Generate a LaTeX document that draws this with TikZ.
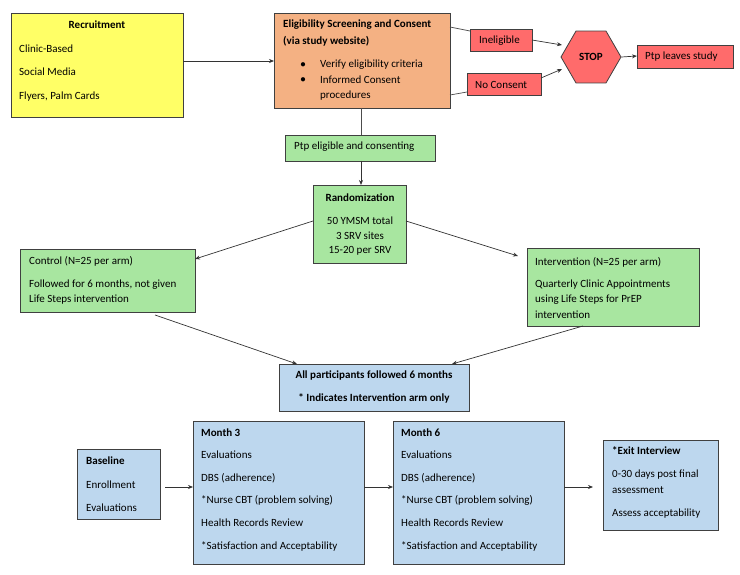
\documentclass[tikz,border=0pt]{standalone}
\usepackage{fontspec}
\setmainfont{Carlito}
\usetikzlibrary{arrows.meta,shapes.geometric}
\definecolor{cyel}{HTML}{FFFF66}
\definecolor{corg}{HTML}{F4B183}
\definecolor{cred}{HTML}{FF6B6B}
\definecolor{cgrn}{HTML}{A8E6A0}
\definecolor{cblu}{HTML}{BDD7EE}
\definecolor{cbrd}{HTML}{404040}
\begin{document}
\begin{tikzpicture}[x=1pt,y=-1pt,
  box/.style={draw=cbrd,line width=0.8pt},
  txt/.style={anchor=west,font=\fontsize{11}{15}\selectfont,align=left,inner sep=0pt},
  ctxt/.style={txt,anchor=center,align=center},
  arr/.style={-{Stealth[length=5pt,width=4pt]},line width=0.7pt,draw=black!80},
  ln/.style={line width=0.7pt,draw=black!70}]
\useasboundingbox (0,0) rectangle (740,575);
% Recruitment
\draw[box,fill=cyel] (11,13) rectangle (183,117);
\node[ctxt] (rect) at (97,25) {\textbf{Recruitment}};
\node[txt] at (19,49) {Clinic-Based};
\node[txt] at (19,72) {Social Media};
\node[txt] at (19,97) {Flyers, Palm Cards};
% Eligibility
\draw[box,fill=corg] (274,13) rectangle (450,108);
\node[txt] at (283,25) {\textbf{Eligibility Screening and Consent}};
\node[txt] at (283,41) {\textbf{(via study website)}};
\node[ctxt] at (303,65) {$\bullet$};
\node[txt] at (320,65) {Verify eligibility criteria};
\node[ctxt] at (303,80) {$\bullet$};
\node[txt] at (320,80) {Informed Consent};
\node[txt] at (320,96) {procedures};
% red
\draw[box,fill=cred] (470,29) rectangle (532,51);
\node[txt] (inel) at (479,41) {Ineligible};
\draw[box,fill=cred] (467,73) rectangle (541,95);
\node[txt] (nocon) at (475,85) {No Consent};
\node[draw=cbrd,line width=0.8pt,fill=cred,regular polygon,regular polygon sides=6,minimum size=60pt,inner sep=0pt,font=\fontsize{11}{13}\selectfont\bfseries] (stop) at (591,57) {STOP};
\draw[box,fill=cred] (637,45) rectangle (733,68);
\node[txt] (leave) at (645,57) {Ptp leaves study};
% eligible
\draw[box,fill=cgrn] (285,135) rectangle (435,161);
\node[txt] (pel) at (294,147) {Ptp eligible and consenting};
% Randomization
\draw[box,fill=cgrn] (313,185) rectangle (406,263);
\node[ctxt] (rand) at (360,198) {\textbf{Randomization}};
\node[ctxt] at (360,221) {50 YMSM total};
\node[ctxt] at (360,236) {3 SRV sites};
\node[ctxt] at (360,251) {15-20 per SRV};
% Control
\draw[box,fill=cgrn] (20,249) rectangle (195,312);
\node[txt] (ctl) at (29,261) {Control (N=25 per arm)};
\node[txt] at (29,285) {Followed for 6 months, not given};
\node[txt] at (29,300) {Life Steps intervention};
% Intervention
\draw[box,fill=cgrn] (527,248) rectangle (699,326);
\node[txt] (int) at (535,262) {Intervention (N=25 per arm)};
\node[txt] at (535,285) {Quarterly Clinic Appointments};
\node[txt] at (535,300) {using Life Steps for PrEP};
\node[txt] at (535,315) {intervention};
% All
\draw[box,fill=cblu] (279,364) rectangle (469,411);
\node[ctxt] (all) at (374,375) {\textbf{All participants followed 6 months}};
\node[ctxt] at (374,398) {\textbf{* Indicates Intervention arm only}};
% Baseline
\draw[box,fill=cblu] (77,449) rectangle (160,519);
\node[txt] (base) at (86,461) {\textbf{Baseline}};
\node[txt] at (86,485) {Enrollment};
\node[txt] at (86,508) {Evaluations};
% Month 3 / 6
\foreach \x/\n in {193/3,393/6}{
  \draw[box,fill=cblu] (\x,421) rectangle (\x+171,564);
  \node[txt] at (\x+8,433) {\textbf{Month \n}};
  \node[txt] at (\x+8,455) {Evaluations};
  \node[txt] at (\x+8,478) {DBS (adherence)};
  \node[txt] at (\x+8,500) {*Nurse CBT (problem solving)};
  \node[txt] at (\x+8,523) {Health Records Review};
  \node[txt] at (\x+8,546) {*Satisfaction and Acceptability};
}
% Exit
\draw[box,fill=cblu] (603,440) rectangle (718,530);
\node[txt] (exit) at (612,451) {\textbf{*Exit Interview}};
\node[txt] at (612,475) {0-30 days post final};
\node[txt] at (612,490) {assessment};
\node[txt] at (612,514) {Assess acceptability};

% connectors
\draw[arr] (183,61) -- (274,61);
\draw[ln] (450,27) -- (470,31);
\draw[ln] (450,95) -- (467,92);
\draw[arr] (532,40) -- (562,45);
\draw[arr] (541,78) -- (562,69);
\draw[arr] (stop.east) -- (637,56);
\draw[ln] (361,108) -- (361,135);
\draw[arr] (361,161) -- (361,185);
\draw[arr] (313,221) -- (195,259);
\draw[arr] (406,221) -- (518,256);
\draw[arr] (155,315) -- (297,364);
\draw[arr] (583,326) -- (452,364);
\draw[arr] (165,487) -- (193,487);
\draw[arr] (364,487) -- (393,487);
\draw[arr] (564,487) -- (593,487);
\end{tikzpicture}
\end{document}
